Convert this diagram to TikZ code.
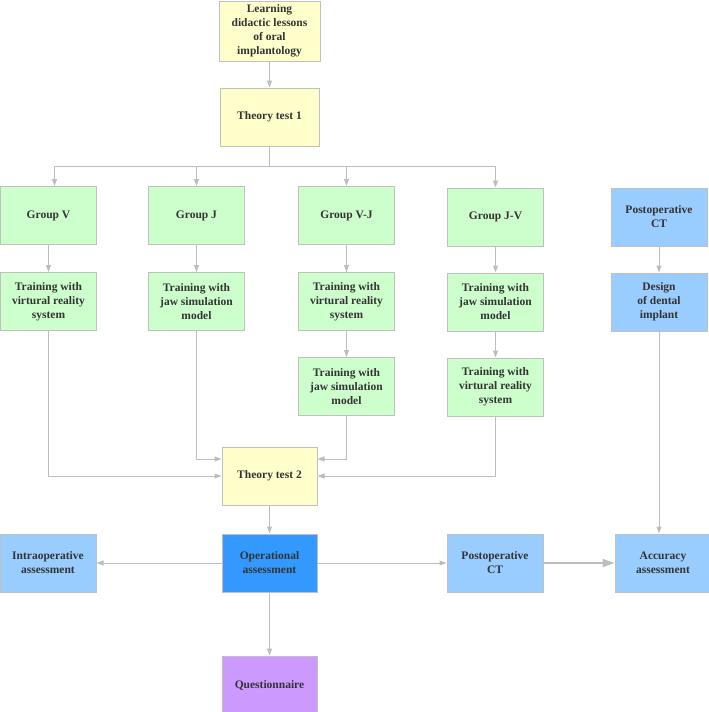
\documentclass[tikz,border=0pt]{standalone}
\usepackage{fontspec}
\setmainfont{Liberation Serif}
\usepackage{xcolor}
\usetikzlibrary{arrows.meta, positioning, calc}

\definecolor{testfill}{HTML}{FFFFCC}
\definecolor{groupfill}{HTML}{CCFFCC}
\definecolor{ctfill}{HTML}{99CCFF}
\definecolor{opfill}{HTML}{3399FF}
\definecolor{questfill}{HTML}{CC99FF}
\definecolor{edgegray}{HTML}{C0C0C0}
\definecolor{linegray}{HTML}{BDBDBD}
\definecolor{txtgray}{HTML}{333333}

\begin{document}
\begin{tikzpicture}[
    x=1pt, y=1pt,
    every node/.style={font=\bfseries\fontsize{11.5}{14}\selectfont, text=txtgray},
    box/.style={rectangle, draw=edgegray, line width=1pt, minimum width=96pt,
                minimum height=58pt, align=center, inner sep=2pt},
    test/.style={box, fill=testfill},
    group/.style={box, fill=groupfill},
    ct/.style={box, fill=ctfill},
    arrow/.style={-{Triangle[length=7pt,width=5pt]}, line width=1pt, draw=linegray},
    bigarrow/.style={-{Triangle[length=12pt,width=8pt]}, line width=1.6pt, draw=linegray}
]
\useasboundingbox (0,0) rectangle (709,-712);

% Top: lessons and first test
\node[test, minimum width=101pt, minimum height=60pt] (learn) at (269.5,-31)
    {Learning\\didactic lessons\\of oral\\implantology};
\node[test, minimum width=99pt, below=26pt of learn] (tt1) {Theory test 1};

% Groups
\node[group] (gv) at (48.5,-215.5) {Group V};
\node[group, right=51pt of gv] (gj) {Group J};
\node[group, right=53pt of gj] (gvj) {Group V-J};
\node[group, right=52pt of gvj, yshift=-1.5pt] (gjv) {Group J-V};
\node[ct] (pct) at (659,-217) {Postoperative\\CT};

% Training steps
\node[group, below=27pt of gv] (trv) {Training with\\virtural reality\\system};
\node[group, below=27pt of gj] (trj) {Training with\\jaw simulation\\model};
\node[group, below=27pt of gvj] (trvj1) {Training with\\virtural reality\\system};
\node[group, below=26pt of gjv] (trjv1) {Training with\\jaw simulation\\model};
\node[group, below=26pt of trvj1] (trvj2) {Training with\\jaw simulation\\model};
\node[group, below=26pt of trjv1] (trjv2) {Training with\\virtural reality\\system};
\node[ct, below=26pt of pct] (design) {Design\\of dental\\implant};

% Second test and assessments
\node[test, minimum width=95pt] (tt2) at (269.5,-476) {Theory test 2};
\node[box, fill=opfill, minimum width=95pt, below=28pt of tt2] (op) {Operational\\assessment};
\node[ct, left=125pt of op] (intra) {Intraoperative\\assessment};
\node[ct, right=129pt of op] (postct) {Postoperative\\CT};
\node[ct, right=71pt of postct] (acc) {Accuracy\\assessment};
\node[box, fill=questfill, minimum width=95pt, below=63pt of op] (quest) {Questionnaire};

% Arrows
\coordinate (split) at ($(tt1.south)+(0,-20)$);
\draw[arrow] (learn) -- (tt1);
\draw[linegray, line width=1pt] (tt1.south) -- (split);
\draw[arrow] (split) -| ([xshift=6pt]gv.north);
\draw[arrow] (split) -| (gj.north);
\draw[arrow] (split) -| (gvj.north);
\draw[arrow] (split) -| (gjv.north);
\draw[arrow] (gv) -- (trv);
\draw[arrow] (gj) -- (trj);
\draw[arrow] (gvj) -- (trvj1);
\draw[arrow] (trvj1) -- (trvj2);
\draw[arrow] (gjv) -- (trjv1);
\draw[arrow] (trjv1) -- (trjv2);
\draw[arrow] (pct) -- (design);
\draw[arrow] (trv.south) |- (tt2.west);
\draw[arrow] (trj.south) |- ([yshift=17pt]tt2.west);
\draw[arrow] (trvj2.south) |- ([yshift=17pt]tt2.east);
\draw[arrow] (trjv2.south) |- (tt2.east);
\draw[arrow] (tt2) -- (op);
\draw[arrow] (op) -- (intra);
\draw[arrow] (op) -- (postct);
\draw[arrow] (op) -- (quest);
\draw[bigarrow] (postct) -- (acc);
\draw[arrow] (design.south) -- (design.south |- acc.north);

\end{tikzpicture}
\end{document}
